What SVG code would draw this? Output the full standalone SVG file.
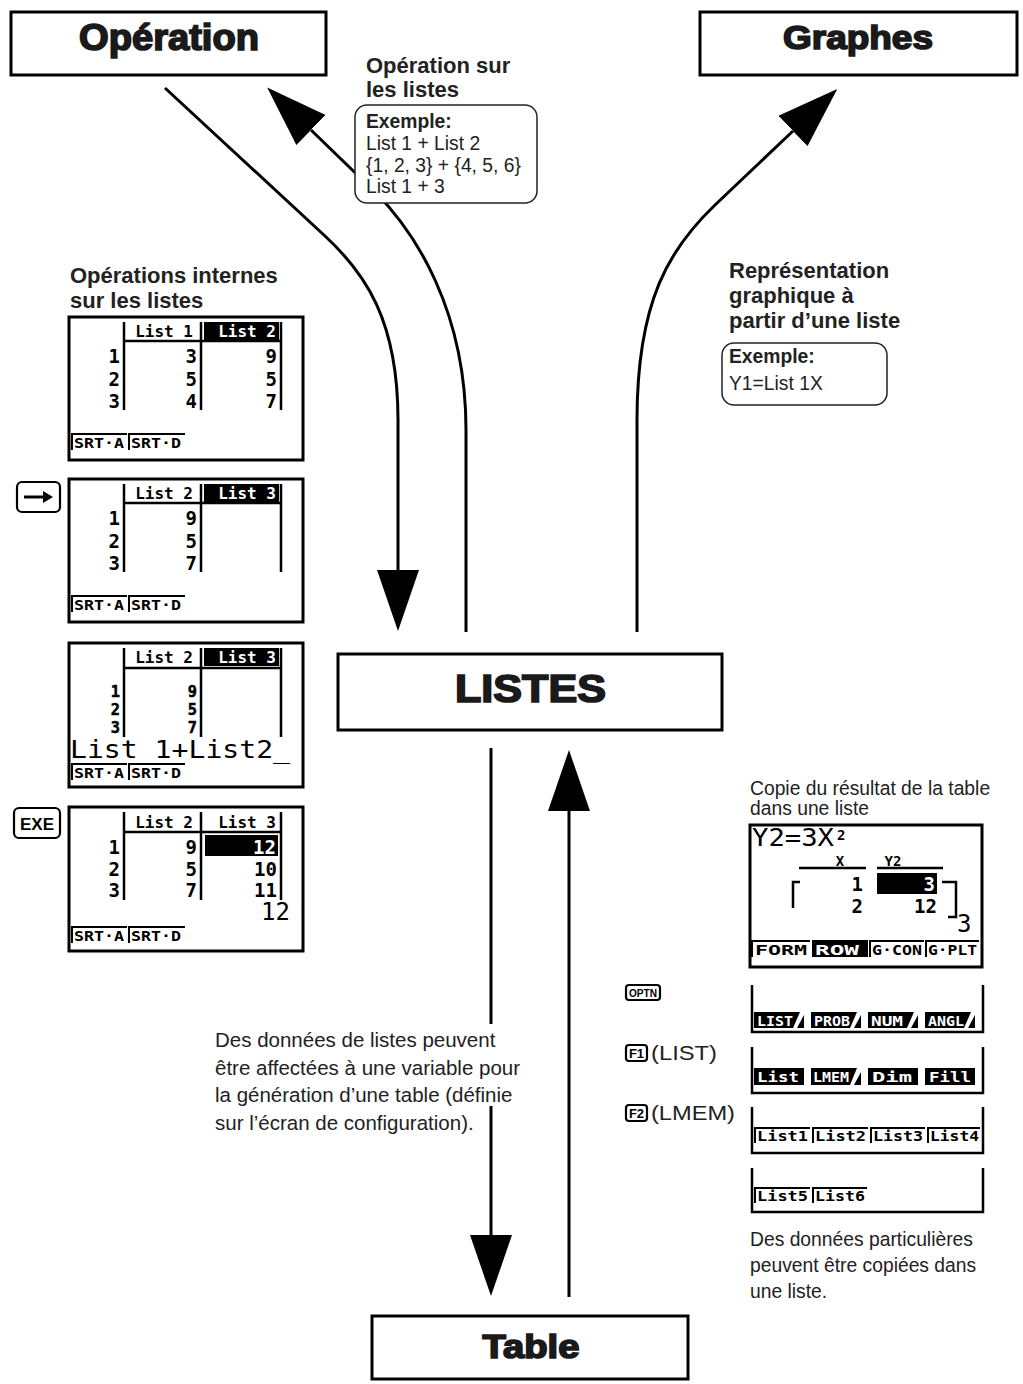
<svg xmlns="http://www.w3.org/2000/svg" width="1023" height="1384" viewBox="0 0 1023 1384">
<defs>
<marker id="ah" markerUnits="userSpaceOnUse" markerWidth="61" markerHeight="42" viewBox="0 0 61 42" refX="0" refY="21" orient="auto"><path d="M0,0 L61,21 L0,42 z" fill="#000"/></marker>
</defs>
<style>
.box{fill:#fff;stroke:#000;stroke-width:3}
.title{font-family:"Liberation Sans",Arial,sans-serif;font-weight:900;fill:#1a1a1a;stroke:#1a1a1a;stroke-width:1.7;text-anchor:middle}
.conn{fill:none;stroke:#000;stroke-width:3}
.h{font-family:"Liberation Sans",Arial,sans-serif;font-weight:bold;font-size:22px;fill:#222}
.t{font-family:"Liberation Sans",Arial,sans-serif;font-size:19.3px;fill:#222}
.tb{font-family:"Liberation Sans",Arial,sans-serif;font-size:19.3px;font-weight:bold;fill:#222}
.m{font-family:"Liberation Sans",Arial,sans-serif;font-size:20.5px;fill:#222}
.ex{fill:#fff;stroke:#222;stroke-width:1.5}
.lcd{fill:#fff;stroke:#000;stroke-width:3}
.ln{stroke:#000;stroke-width:2.5;fill:none}
.tab{stroke:#000;stroke-width:2;fill:none}
.px{font-family:"DejaVu Sans Mono",monospace;font-weight:bold;font-size:16px;fill:#000}
.pd{font-family:"DejaVu Sans Mono",monospace;font-weight:bold;font-size:19px;fill:#000;text-anchor:end}
.ps{font-family:"DejaVu Sans Mono",monospace;font-weight:bold;font-size:15.3px;fill:#000;stroke:#000;stroke-width:0.5;text-anchor:end}
.pt{font-family:"DejaVu Sans Mono",monospace;font-weight:bold;font-size:14px;fill:#000}
.big{font-family:"DejaVu Sans Mono",monospace;font-size:24px;fill:#000}
.w{fill:#fff}
.key{fill:#fff;stroke:#000;stroke-width:2.2}
.kt{font-family:"Liberation Sans",Arial,sans-serif;font-weight:bold;fill:#000;text-anchor:middle}
</style>
<rect width="1023" height="1384" fill="#fff"/>

<g id="connectors">
<path class="conn" d="M165,88 L325,236 C365,273 398,320 398,420 L398,570" marker-end="url(#ah)"/>
<path class="conn" d="M466,632 L466,430 C466,310 415,232 375,192 L311,130" marker-end="url(#ah)"/>
<path class="conn" d="M637,632 L637,420 C637,300 670,248 715,205 L793,131" marker-end="url(#ah)"/>
<path class="conn" d="M491,748 L491,1235" marker-end="url(#ah)"/>
<path class="conn" d="M569,1297 L569,811" marker-end="url(#ah)"/>
</g>

<g id="node-operation">
<rect class="box" x="11" y="12" width="315" height="63"/>
<text class="title" x="169" y="50" font-size="36" textLength="180" lengthAdjust="spacingAndGlyphs">Opération</text>
</g>
<g id="node-graphes">
<rect class="box" x="700" y="12" width="317" height="63"/>
<text class="title" x="858" y="49" font-size="34" textLength="150" lengthAdjust="spacingAndGlyphs">Graphes</text>
</g>
<g id="node-listes">
<rect class="box" x="338" y="654" width="384" height="76"/>
<text class="title" x="530.5" y="702" font-size="38" textLength="151" lengthAdjust="spacingAndGlyphs">LISTES</text>
</g>
<g id="node-table">
<rect class="box" x="372" y="1316" width="316" height="63"/>
<text class="title" x="531" y="1358" font-size="33" textLength="97" lengthAdjust="spacingAndGlyphs">Table</text>
</g>

<g id="label-operation-listes">
<text class="h" x="366" y="73">Opération sur</text>
<text class="h" x="366" y="97">les listes</text>
<rect class="ex" x="355" y="105" width="182" height="98" rx="12"/>
<text class="tb" x="366" y="128">Exemple:</text>
<text class="t" x="366" y="150">List 1 + List 2</text>
<text class="t" x="366" y="172">{1, 2, 3} + {4, 5, 6}</text>
<text class="t" x="366" y="193">List 1 + 3</text>
</g>

<g id="label-graphes">
<text class="h" x="729" y="278">Représentation</text>
<text class="h" x="729" y="303">graphique à</text>
<text class="h" x="729" y="328">partir d’une liste</text>
<rect class="ex" x="722" y="343" width="165" height="62" rx="12"/>
<text class="tb" x="729" y="363">Exemple:</text>
<text class="t" x="729" y="390">Y1=List 1X</text>
</g>

<g id="label-internes">
<text class="h" x="70" y="283">Opérations internes</text>
<text class="h" x="70" y="308">sur les listes</text>
</g>

<g id="screen-1">
<rect class="lcd" x="69" y="317" width="234" height="143"/>
<path class="ln" d="M124,322 V410 M201,322 V410 M281,322 V410 M124,341 H281"/>
<text class="px" x="193" y="337" text-anchor="end">List 1</text>
<rect x="204" y="322" width="75" height="18"/>
<text class="px w" x="276" y="337" text-anchor="end">List 2</text>
<text class="pd" x="120" y="363">1</text><text class="pd" x="120" y="385.5">2</text><text class="pd" x="120" y="408">3</text>
<text class="pd" x="197" y="363">3</text><text class="pd" x="197" y="385.5">5</text><text class="pd" x="197" y="408">4</text>
<text class="pd" x="277" y="363">9</text><text class="pd" x="277" y="385.5">5</text><text class="pd" x="277" y="408">7</text>
<path class="tab" d="M72,450 V434 H127 M129,450 V434 H185"/>
<text class="pt" x="74" y="448" textLength="50" lengthAdjust="spacingAndGlyphs">SRT·A</text><text class="pt" x="131" y="448" textLength="50" lengthAdjust="spacingAndGlyphs">SRT·D</text>
</g>

<g id="key-right">
<rect class="key" x="17" y="482" width="43" height="30" rx="5"/>
<path d="M24,497 H45" stroke="#000" stroke-width="3"/>
<polygon points="43,491 53,497 43,503" fill="#000"/>
</g>

<g id="screen-2">
<rect class="lcd" x="69" y="479" width="234" height="143"/>
<path class="ln" d="M124,484 V572 M201,484 V572 M281,484 V572 M124,503 H281"/>
<text class="px" x="193" y="499" text-anchor="end">List 2</text>
<rect x="204" y="484" width="75" height="18"/>
<text class="px w" x="276" y="499" text-anchor="end">List 3</text>
<text class="pd" x="120" y="525">1</text><text class="pd" x="120" y="547.5">2</text><text class="pd" x="120" y="570">3</text>
<text class="pd" x="197" y="525">9</text><text class="pd" x="197" y="547.5">5</text><text class="pd" x="197" y="570">7</text>
<path class="tab" d="M72,612 V596 H127 M129,612 V596 H185"/>
<text class="pt" x="74" y="610" textLength="50" lengthAdjust="spacingAndGlyphs">SRT·A</text><text class="pt" x="131" y="610" textLength="50" lengthAdjust="spacingAndGlyphs">SRT·D</text>
</g>

<g id="screen-3">
<rect class="lcd" x="69" y="643" width="234" height="144"/>
<path class="ln" d="M124,648 V737 M201,648 V737 M281,648 V737 M124,668 H281"/>
<text class="px" x="193" y="663" text-anchor="end">List 2</text>
<rect x="204" y="648" width="75" height="18"/>
<text class="px w" x="276" y="663" text-anchor="end">List 3</text>
<text class="ps" x="120" y="697">1</text><text class="ps" x="120" y="715">2</text><text class="ps" x="120" y="733">3</text>
<text class="ps" x="197" y="697">9</text><text class="ps" x="197" y="715">5</text><text class="ps" x="197" y="733">7</text>
<text class="big" x="70" y="758" textLength="220" lengthAdjust="spacingAndGlyphs">List 1+List2_</text>
<path class="tab" d="M72,780 V764 H127 M129,780 V764 H185"/>
<text class="pt" x="74" y="778" textLength="50" lengthAdjust="spacingAndGlyphs">SRT·A</text><text class="pt" x="131" y="778" textLength="50" lengthAdjust="spacingAndGlyphs">SRT·D</text>
</g>

<g id="key-exe">
<rect class="key" x="14" y="808" width="46" height="30" rx="5"/>
<text class="kt" x="37" y="830" font-size="17" textLength="34" lengthAdjust="spacingAndGlyphs">EXE</text>
</g>

<g id="screen-4">
<rect class="lcd" x="69" y="807" width="234" height="144"/>
<path class="ln" d="M124,812 V900 M201,812 V900 M281,812 V900 M124,832 H281"/>
<text class="px" x="193" y="828" text-anchor="end">List 2</text>
<text class="px" x="276" y="828" text-anchor="end">List 3</text>
<rect x="205" y="835" width="73" height="21"/>
<text class="pd w" x="276" y="854">12</text>
<text class="pd" x="120" y="854">1</text><text class="pd" x="120" y="876">2</text><text class="pd" x="120" y="897">3</text>
<text class="pd" x="197" y="854">9</text><text class="pd" x="197" y="876">5</text><text class="pd" x="197" y="897">7</text>
<text class="pd" x="277" y="876">10</text><text class="pd" x="277" y="897">11</text>
<text class="big" x="290" y="920" text-anchor="end">12</text>
<path class="tab" d="M72,943 V927 H127 M129,943 V927 H185"/>
<text class="pt" x="74" y="941" textLength="50" lengthAdjust="spacingAndGlyphs">SRT·A</text><text class="pt" x="131" y="941" textLength="50" lengthAdjust="spacingAndGlyphs">SRT·D</text>
</g>

<g id="label-middle">
<rect x="212" y="1024" width="316" height="82" fill="#fff"/>
<text class="m" x="215" y="1047">Des données de listes peuvent</text>
<text class="m" x="215" y="1074.5">être affectées à une variable pour</text>
<text class="m" x="215" y="1102">la génération d’une table (définie</text>
<text class="m" x="215" y="1129.5">sur l’écran de configuration).</text>
</g>

<g id="label-copie">
<text class="t" x="750" y="795">Copie du résultat de la table</text>
<text class="t" x="750" y="815">dans une liste</text>
</g>

<g id="screen-table">
<rect class="lcd" x="750" y="825" width="232" height="142"/>
<text class="big" x="752" y="846" textLength="82" lengthAdjust="spacingAndGlyphs">Y2=3X</text>
<text class="pt" x="837" y="840" font-size="13">2</text>
<text class="pt" x="840" y="866" text-anchor="middle" font-size="13">X</text>
<text class="pt" x="893" y="866" text-anchor="middle" font-size="13">Y2</text>
<path class="ln" d="M799,868 H866 M877,868 H943 M800,882 H793 V908 M942,882 H956 V917 H948"/>
<rect x="877" y="873" width="60" height="21"/>
<text class="pd w" x="935" y="891">3</text>
<text class="pd" x="863" y="891">1</text>
<text class="pd" x="863" y="913">2</text>
<text class="pd" x="937" y="913">12</text>
<text class="big" x="957" y="932">3</text>
<path class="tab" d="M752,957 V941 H810 M870,957 V941 H924 M926,957 V941 H979"/>
<text class="pt" x="755" y="955" textLength="52" lengthAdjust="spacingAndGlyphs">FORM</text>
<rect x="812" y="940" width="56" height="17"/>
<text class="pt w" x="815" y="955" textLength="44" lengthAdjust="spacingAndGlyphs">ROW</text>
<text class="pt" x="872" y="955" textLength="50" lengthAdjust="spacingAndGlyphs">G·CON</text>
<text class="pt" x="928" y="955" textLength="49" lengthAdjust="spacingAndGlyphs">G·PLT</text>
</g>

<g id="key-optn">
<rect class="key" x="626" y="985" width="34" height="15" rx="3" stroke-width="1.8"/>
<text class="kt" x="643" y="997" font-size="10" textLength="28" lengthAdjust="spacingAndGlyphs">OPTN</text>
</g>
<g id="menu-optn">
<path class="ln" d="M752,985 V1032 H983 V985" stroke-width="3"/>
<polygon points="754,1012 800,1012 793,1028 754,1028"/><polygon points="797,1028 804,1028 804,1015"/>
<polygon points="811,1012 857,1012 850,1028 811,1028"/><polygon points="854,1028 861,1028 861,1015"/>
<polygon points="868,1012 914,1012 907,1028 868,1028"/><polygon points="911,1028 918,1028 918,1015"/>
<polygon points="925,1012 971,1012 964,1028 925,1028"/><polygon points="968,1028 975,1028 975,1015"/>
<text class="pt w" x="757" y="1026" textLength="36" lengthAdjust="spacingAndGlyphs">LIST</text>
<text class="pt w" x="814" y="1026" textLength="36" lengthAdjust="spacingAndGlyphs">PROB</text>
<text class="pt w" x="871" y="1026" textLength="32" lengthAdjust="spacingAndGlyphs">NUM</text>
<text class="pt w" x="928" y="1026" textLength="36" lengthAdjust="spacingAndGlyphs">ANGL</text>
</g>

<g id="key-f1">
<rect class="key" x="626" y="1045" width="21" height="16" rx="3" stroke-width="1.8"/>
<text class="kt" x="636.5" y="1058" font-size="13">F1</text>
<text class="t" x="651" y="1060" font-size="22" textLength="66" lengthAdjust="spacingAndGlyphs">(LIST)</text>
</g>
<g id="menu-list">
<path class="ln" d="M752,1047 V1093 H983 V1047" stroke-width="3"/>
<rect x="754" y="1068" width="50" height="17"/>
<polygon points="811,1068 857,1068 850,1085 811,1085"/><polygon points="854,1085 861,1085 861,1072"/>
<rect x="868" y="1068" width="50" height="17"/>
<rect x="925" y="1068" width="50" height="17"/>
<text class="pt w" x="757" y="1082" textLength="42" lengthAdjust="spacingAndGlyphs">List</text>
<text class="pt w" x="813" y="1082" textLength="36" lengthAdjust="spacingAndGlyphs">LMEM</text>
<text class="pt w" x="872" y="1082" textLength="40" lengthAdjust="spacingAndGlyphs">Dim</text>
<text class="pt w" x="929" y="1082" textLength="42" lengthAdjust="spacingAndGlyphs">Fill</text>
</g>

<g id="key-f2">
<rect class="key" x="626" y="1105" width="21" height="16" rx="3" stroke-width="1.8"/>
<text class="kt" x="636.5" y="1118" font-size="13">F2</text>
<text class="t" x="651" y="1120" font-size="22" textLength="84" lengthAdjust="spacingAndGlyphs">(LMEM)</text>
</g>
<g id="menu-lmem">
<path class="ln" d="M752,1107 V1153 H983 V1107" stroke-width="3"/>
<path class="tab" d="M755,1143 V1128 H810 M813,1143 V1128 H868 M871,1143 V1128 H925 M928,1143 V1128 H980"/>
<text class="pt" x="757" y="1141" textLength="51" lengthAdjust="spacingAndGlyphs">List1</text>
<text class="pt" x="815" y="1141" textLength="51" lengthAdjust="spacingAndGlyphs">List2</text>
<text class="pt" x="873" y="1141" textLength="50" lengthAdjust="spacingAndGlyphs">List3</text>
<text class="pt" x="930" y="1141" textLength="49" lengthAdjust="spacingAndGlyphs">List4</text>
</g>
<g id="menu-lmem-2">
<path class="ln" d="M752,1168 V1212 H983 V1168" stroke-width="3"/>
<path class="tab" d="M755,1203 V1188 H810 M813,1203 V1188 H867"/>
<text class="pt" x="757" y="1201" textLength="51" lengthAdjust="spacingAndGlyphs">List5</text>
<text class="pt" x="815" y="1201" textLength="50" lengthAdjust="spacingAndGlyphs">List6</text>
</g>

<g id="label-particulieres">
<text class="t" x="750" y="1246">Des données particulières</text>
<text class="t" x="750" y="1272">peuvent être copiées dans</text>
<text class="t" x="750" y="1297.5">une liste.</text>
</g>
</svg>
